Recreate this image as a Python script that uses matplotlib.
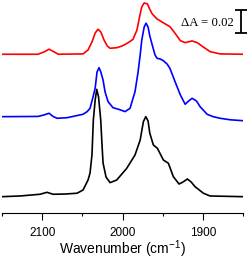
import matplotlib
matplotlib.use("Agg")
import matplotlib.pyplot as plt
from matplotlib.ticker import MultipleLocator

# IR difference spectra, absorbance relative to each trace's own baseline
wn_black = [2150, 2127.6, 2102.7, 2094, 2086.5, 2071.5, 2056.6, 2049.1, 2042.9, 2040.4,
            2038, 2036.3, 2034, 2032.1, 2029.8, 2027.1, 2025.5, 2024.2, 2020.5, 2015.5,
            2007.2, 1994.7, 1984.4, 1978, 1974, 1971, 1968.2, 1966, 1961.6, 1956.6,
            1949.1, 1942.9, 1936.7, 1929.6, 1924.6, 1919.2, 1914.6, 1909.7, 1899.3, 1891,
            1850]
a_black = [0, 0.0006, 0.0021, 0.0038, 0.0021, 0.0023, 0.0030, 0.0058, 0.0145, 0.0206,
           0.0363, 0.0667, 0.0841, 0.0934, 0.0867, 0.0667, 0.0450, 0.0293, 0.0171, 0.0122,
           0.0145, 0.0247, 0.0363, 0.0493, 0.0653, 0.0696, 0.0659, 0.0552, 0.0450, 0.0421,
           0.0319, 0.0291, 0.0174, 0.0110, 0.0128, 0.0154, 0.0128, 0.0087, 0.0030, 0.0006,
           0]

wn_blue = [2150, 2105.2, 2097.7, 2091.5, 2086.5, 2081.5, 2069, 2049.1, 2044, 2040.4,
           2036.7, 2034, 2031.7, 2029.2, 2027, 2024.2, 2021.7, 2018, 2011.8, 2004.3,
           1996.8, 1990.6, 1984.4, 1980.6, 1978, 1976, 1973, 1970.7, 1968.2, 1966,
           1963, 1959.5, 1957, 1953.2, 1949.5, 1944.5, 1941, 1934.6, 1928, 1922,
           1918.4, 1913.4, 1908, 1903.4, 1894.7, 1887.2, 1878.5, 1866, 1850]
a_blue = [0, 0.0002, 0.0015, 0.0030, 0.0002, -0.0014, -0.0009, 0.0021, 0.0044, 0.0073,
          0.0171, 0.0250, 0.0389, 0.0426, 0.0389, 0.0319, 0.0215, 0.0131, 0.0078, 0.0063,
          0.0044, 0.0073, 0.0218, 0.0389, 0.0537, 0.0667, 0.0780, 0.0813, 0.0780, 0.0702,
          0.0624, 0.0537, 0.0508, 0.0502, 0.0489, 0.0458, 0.0421, 0.0305, 0.0189, 0.0108,
          0.0132, 0.0160, 0.0137, 0.0087, 0.0021, 0, -0.0014, -0.0027, -0.0035]

wn_red = [2150, 2105.2, 2097.7, 2091.5, 2085, 2080, 2049.1, 2042.9, 2038, 2034,
          2030.5, 2027, 2023, 2019, 2015.5, 2007, 2000.6, 1994, 1987, 1982,
          1978, 1976, 1973, 1969, 1966, 1963, 1959.5, 1957, 1949.5, 1941,
          1934.6, 1928, 1922, 1913.4, 1907, 1900, 1891, 1878.5, 1850]
a_red = [0, 0, 0.0020, 0.0044, 0.0020, 0, 0.0003, 0.0037, 0.0107, 0.0185,
         0.0218, 0.0194, 0.0124, 0.0072, 0.0052, 0.0057, 0.0072, 0.0096, 0.0129, 0.0211,
         0.0351, 0.0412, 0.0446, 0.0438, 0.0390, 0.0351, 0.0325, 0.0307, 0.0275, 0.0240,
         0.0183, 0.0118, 0.0101, 0.0116, 0.0101, 0.0066, 0.0023, 0.0003, 0]

offset_blue = 0.0696
offset_red = 0.1239

plt.rcParams['font.family'] = ['Liberation Sans', 'DejaVu Sans']
plt.rcParams['mathtext.default'] = 'regular'

fig = plt.figure(figsize=(2.49, 2.59), dpi=100)
ax = fig.add_axes([2 / 249, 46 / 259, 241 / 249, 213 / 259])

ax.plot(wn_black, a_black, color='black', lw=1.2)
ax.plot(wn_blue, [a + offset_blue for a in a_blue], color='#0000ff', lw=1.2)
ax.plot(wn_red, [a + offset_red for a in a_red], color='#ff0000', lw=1.2)

# scale bar, 0.02 absorbance units
ax.errorbar([1852.4], [0.152], yerr=[0.01], color='black', lw=1.3, capsize=4.3,
            capthick=1.3, clip_on=False)
ax.text(1862, 0.1511, '\u0394A = 0.02', ha='right', va='center', fontsize=9.2,
        family=['Liberation Serif', 'DejaVu Serif'])

ax.set_xlim(2150, 1850)
ax.set_ylim(-0.0142, 0.1711)

for side in ['left', 'right', 'top']:
    ax.spines[side].set_visible(False)
ax.spines['bottom'].set_linewidth(0.8)
ax.set_yticks([])
ax.xaxis.set_major_locator(MultipleLocator(100))
ax.xaxis.set_minor_locator(MultipleLocator(50))
ax.tick_params(axis='x', which='major', direction='out', length=5, width=0.8,
               pad=5, labelsize=8.5)
ax.tick_params(axis='x', which='minor', direction='out', length=2.5, width=0.8)
ax.set_xlabel('Wavenumber (cm$^{-1}$)', fontsize=10, labelpad=0)

fig.savefig('out.png', dpi=100)
